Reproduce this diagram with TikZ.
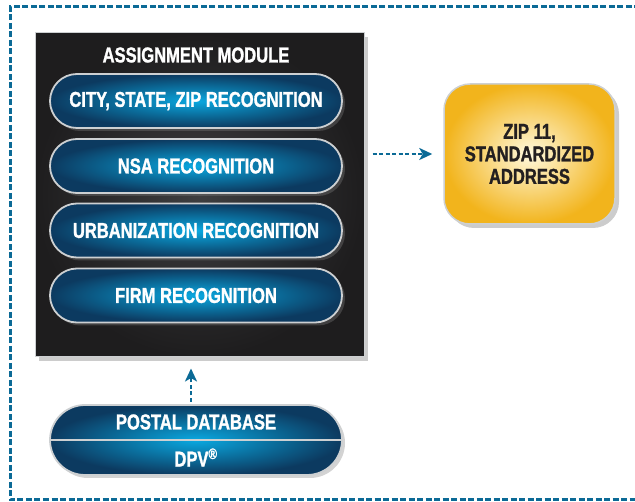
\documentclass[tikz,border=0pt]{standalone}
\usepackage{fontspec}
\setmainfont[FakeStretch=0.77, BoldFeatures={FakeBold=1.3}]{Liberation Sans}
\usepackage{xcolor}
\usepackage{tikz}
\usetikzlibrary{arrows.meta,shadows}

\definecolor{dashblue}{RGB}{11,106,150}
\definecolor{pilldark}{RGB}{12,58,96}
\definecolor{pilllight}{RGB}{10,168,224}
\definecolor{modfill}{RGB}{30,29,30}
\definecolor{modlight}{RGB}{62,62,64}
\definecolor{rimgray}{RGB}{205,208,210}
\definecolor{zipdark}{RGB}{242,180,28}
\definecolor{ziplight}{RGB}{255,249,222}
\definecolor{zipink}{RGB}{35,31,32}

\begin{document}
\begin{tikzpicture}[x=1pt,y=-1pt]
\tikzstyle{every node}+=[inner sep=0pt, font=\bfseries\fontsize{21.5}{22.5}\selectfont]
\tikzstyle{pill}=[draw=rimgray, line width=1.8pt, inner color=pilllight, outer color=pilldark,
  minimum width=292pt, minimum height=54pt, rounded corners=27pt, text=white,
  drop shadow={shadow xshift=3pt, shadow yshift=-3pt, opacity=0.35}]
\tikzstyle{flow}=[dashblue, line width=2.4pt, dash pattern=on 4pt off 2.5pt,
  -{Stealth[length=13pt,width=12pt,inset=3.5pt]}]
\useasboundingbox (0,0) rectangle (635,502);
% outer frame, open on the right
\draw [dashblue, line width=3pt, dash pattern=on 6pt off 2.5pt]
  (640,7) -- (10,7) -- (10,500) -- (640,500);
% assignment module
\node [draw=rimgray, line width=1pt, inner color=modlight, outer color=modfill,
  minimum width=329pt, minimum height=324pt,
  drop shadow={shadow xshift=4pt, shadow yshift=-4pt, opacity=0.4}] (module) at (199.5,195) {};
\node [text=white] (title) at (196,55) {ASSIGNMENT MODULE};
\node [pill] (city) at (196,101) {CITY, STATE, ZIP RECOGNITION};
\node [pill] (nsa) at (196,166) {NSA RECOGNITION};
\node [pill] (urban) at (196,230.5) {URBANIZATION RECOGNITION};
\node [pill] (firm) at (196,295.5) {FIRM RECOGNITION};
% result
\node [draw=rimgray, line width=1.5pt, inner color=ziplight, outer color=zipdark,
  minimum width=171pt, minimum height=140pt, rounded corners=26pt, text=zipink,
  align=center, drop shadow={shadow xshift=4pt, shadow yshift=-4pt, opacity=0.4}]
  (zip) at (529.5,154) {ZIP 11,\\STANDARDIZED\\ADDRESS};
% postal database
\node [pill, minimum height=70pt, rounded corners=35pt] (postal) at (196,440) {};
\draw [rimgray, line width=1.5pt] (postal.west) -- (postal.east);
\node [text=white] (db) at (196,422) {POSTAL DATABASE};
\node [text=white] (dpv) at (196,457.5) {DPV\textsuperscript{®}};
% connectors
\draw [flow, shorten <=8pt, shorten >=11pt] (module.east |- zip.west) -- (zip.west);
\coordinate (up) at (191,402);
\draw [flow, shorten >=11pt] (up) -- (up |- module.south);
\end{tikzpicture}
\end{document}
